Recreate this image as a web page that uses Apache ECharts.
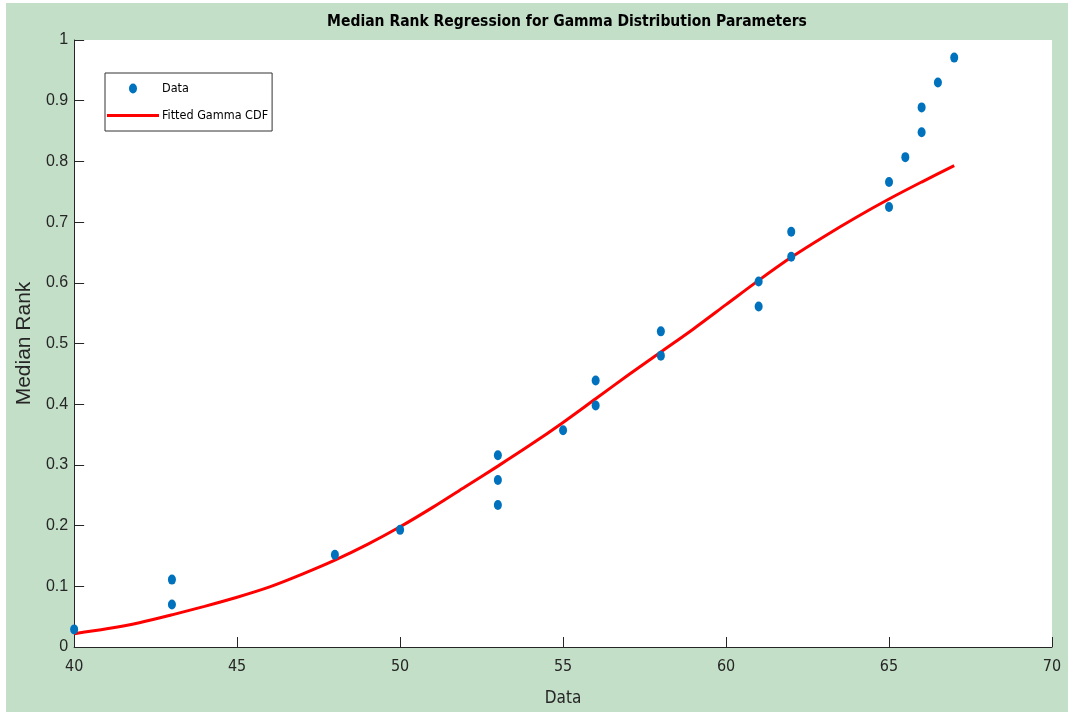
<!DOCTYPE html>
<html><head><meta charset="utf-8">
<script src="https://cdn.jsdelivr.net/npm/echarts@6/dist/echarts.min.js"></script>
<style>
html,body{margin:0;padding:0;background:#fff;width:1068px;height:712px;overflow:hidden;}
#c{position:absolute;left:6px;top:3px;width:1062px;height:709px;background:#c3dfc8;}
</style>
</head><body><div id="c"></div>
<script>
const titleText = 'Median Rank Regression for Gamma Distribution Parameters';
const xTicks = [40, 45, 50, 55, 60, 65, 70];
const yTicks = [0, 0.1, 0.2, 0.3, 0.4, 0.5, 0.6, 0.7, 0.8, 0.9, 1];
const dataX = [40, 43, 43, 48, 50, 53, 53, 53, 55, 56, 56, 58, 58, 61, 61, 62, 62, 65, 65, 65.5, 66, 66, 66.5, 67];
const dataRank = [0.029, 0.070, 0.111, 0.152, 0.193, 0.234, 0.275, 0.316, 0.357, 0.398, 0.439, 0.480, 0.520, 0.561, 0.602, 0.643, 0.684, 0.725, 0.766, 0.807, 0.848, 0.889, 0.930, 0.971];
const fitX = [40, 41, 42, 43, 44, 45, 46, 47, 48, 49, 50, 51, 52, 53, 54, 55, 56, 57, 58, 59, 60, 61, 62, 63, 64, 65, 66, 67];
const fitCdf = [0.022, 0.030, 0.040, 0.053, 0.067, 0.082, 0.099, 0.120, 0.143, 0.169, 0.198, 0.230, 0.264, 0.298, 0.333, 0.370, 0.409, 0.448, 0.486, 0.524, 0.564, 0.604, 0.642, 0.676, 0.708, 0.738, 0.766, 0.793];

const narrow = "'DejaVu Sans Condensed', 'Liberation Sans', Arial, sans-serif";
const regular = "'Liberation Sans', Arial, sans-serif";
const ellipse = 'path://M4,0 A4,5 0 1,1 4,10 A4,5 0 1,1 4,0 Z';
const lineIcon = 'path://M0,0 L52,0 L52,3 L0,3 Z';

const chart = echarts.init(document.getElementById('c'), null, {renderer: 'canvas'});
chart.setOption({
  backgroundColor: '#c3dfc8',
  animation: false,
  title: {
    text: titleText,
    left: 556, top: 6, textAlign: 'center',
    textStyle: {fontFamily: narrow, fontSize: 15.5, fontWeight: 'bold', color: '#000'}
  },
  grid: {left: 66, right: 16, top: 37, bottom: 65, show: true, backgroundColor: '#fff', borderWidth: 0, containLabel: false},
  legend: {
    orient: 'vertical', left: 99, top: 70,
    padding: [9, 4, 9, 2], itemGap: 14, itemWidth: 52, itemHeight: 10,
    backgroundColor: '#fff', borderColor: '#333', borderWidth: 1,
    textStyle: {fontFamily: narrow, fontSize: 12.5, color: '#000', padding: [0, 0, 0, -2]},
    data: [
      {name: 'Data', icon: ellipse},
      {name: 'Fitted Gamma CDF', icon: lineIcon}
    ]
  },
  xAxis: {
    type: 'value', min: xTicks[0], max: xTicks[xTicks.length - 1], interval: 5,
    name: 'Data', nameLocation: 'middle', nameGap: 43,
    nameTextStyle: {fontFamily: narrow, fontSize: 17, color: '#262626'},
    axisLine: {show: true, onZero: false, lineStyle: {color: '#262626', width: 1}},
    axisTick: {show: true, inside: true, length: 10, lineStyle: {color: '#262626'}},
    axisLabel: {fontFamily: narrow, fontSize: 16, color: '#262626', margin: 12},
    splitLine: {show: false}
  },
  yAxis: {
    type: 'value', min: yTicks[0], max: yTicks[yTicks.length - 1], interval: 0.1,
    name: 'Median Rank', nameLocation: 'middle', nameGap: 24,
    nameTextStyle: {fontFamily: regular, fontSize: 21, color: '#262626'},
    axisLine: {show: true, onZero: false, lineStyle: {color: '#262626', width: 1}},
    axisTick: {show: true, inside: true, length: 10, lineStyle: {color: '#262626'}},
    axisLabel: {fontFamily: regular, fontSize: 16, color: '#262626', margin: 6},
    splitLine: {show: false}
  },
  series: [
    {
      name: 'Data', type: 'scatter',
      data: dataX.map((x, i) => [x, dataRank[i]]),
      symbol: ellipse, symbolSize: [8, 10], symbolKeepAspect: false,
      itemStyle: {color: '#0072BD', opacity: 1}, z: 3
    },
    {
      name: 'Fitted Gamma CDF', type: 'line',
      data: fitX.map((x, i) => [x, fitCdf[i]]),
      smooth: 0.3, symbol: 'none', showSymbol: false,
      lineStyle: {color: '#FF0000', width: 3},
      itemStyle: {color: '#FF0000'}, z: 2
    }
  ]
});
</script>
</body></html>
